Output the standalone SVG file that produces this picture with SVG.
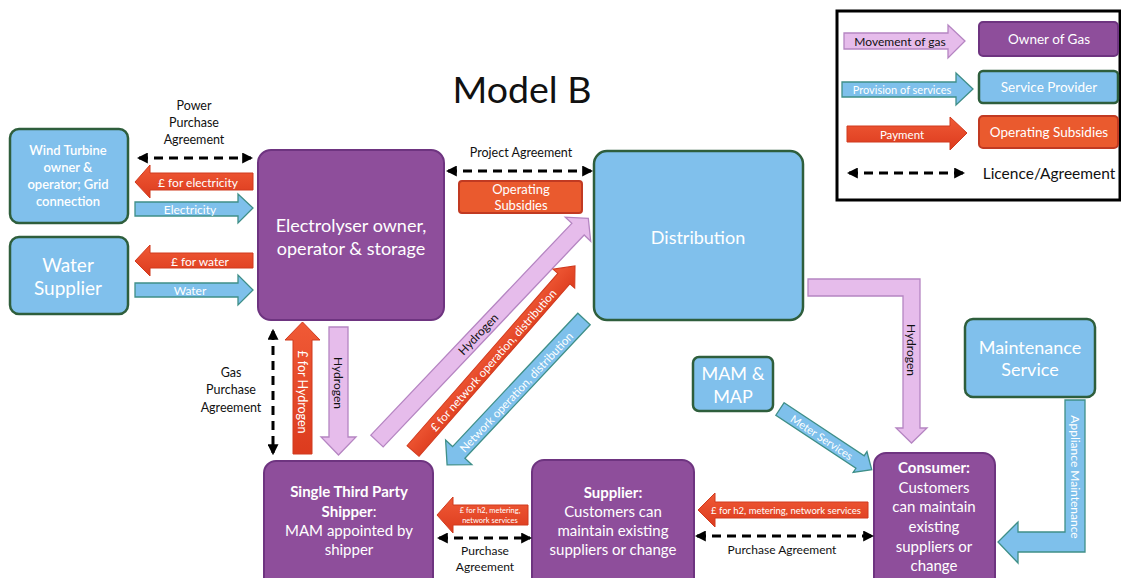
<svg xmlns="http://www.w3.org/2000/svg" width="1121" height="578" viewBox="0 0 1121 578">
<defs>
<style>
.t{font-family:Lato,"Liberation Sans",sans-serif;text-anchor:middle;dominant-baseline:central}
.w{fill:#fff}
.k{fill:#111}
.b{font-weight:bold}
.own{fill:#8E4E9B;stroke:#6E3480;stroke-width:2}
.srv{fill:#80C0EC;stroke:#2E5E3C;stroke-width:2.5}
.sub{fill:#EA5A2E;stroke:#C13A22;stroke-width:2}
.gas{fill:#E6BCEB;stroke:#B585C2;stroke-width:1.3}
.pay{fill:url(#rg);stroke:#D03A1E;stroke-width:1}
.prv{fill:#7EC0EB;stroke:#3F8F88;stroke-width:1.3}
.dash{stroke:#000;stroke-width:3;stroke-dasharray:9 6;fill:none;marker-start:url(#ah);marker-end:url(#ah)}
</style>
<linearGradient id="rg" x1="0" y1="0" x2="0" y2="1">
<stop offset="0" stop-color="#F05A36"/>
<stop offset="1" stop-color="#DC3B1E"/>
</linearGradient>
<marker id="ah" viewBox="0 0 10 10" refX="8" refY="5" markerWidth="11" markerHeight="11" markerUnits="userSpaceOnUse" orient="auto-start-reverse">
<path d="M0,0 L10,5 L0,10 Z" fill="#000"/>
</marker>
</defs>
<rect width="1121" height="578" fill="#fff"/>

<text class="t k" x="522" y="88" font-size="37.5">Model B</text>

<g id="legend">
<rect x="837" y="11" width="283" height="189" fill="#fff" stroke="#000" stroke-width="3"/>
<path class="gas" d="M844,33 L948,33 L948,25 L965,41 L948,58 L948,49 L844,49 Z"/>
<text class="t k" x="900" y="41" font-size="12">Movement of gas</text>
<path class="prv" d="M842,82 L956,82 L956,73 L973,89 L956,105 L956,97 L842,97 Z"/>
<text class="t w" x="902" y="89" font-size="11">Provision of services</text>
<path class="pay" d="M847,126 L950,126 L950,117 L967,133 L950,150 L950,142 L847,142 Z"/>
<text class="t w" x="902" y="134" font-size="11.5">Payment</text>
<rect class="own" x="979" y="22" width="139" height="34" rx="4"/>
<text class="t w" x="1049" y="39" font-size="13.5">Owner of Gas</text>
<rect class="srv" x="979" y="71" width="139" height="32" rx="4"/>
<text class="t w" x="1049" y="87" font-size="13.5">Service Provider</text>
<rect class="sub" x="979" y="116" width="139" height="32" rx="4"/>
<text class="t w" x="1049" y="132" font-size="13.5">Operating Subsidies</text>
<line class="dash" x1="849" y1="173" x2="963" y2="173"/>
<text class="t k" x="1049" y="173" font-size="15.5">Licence/Agreement</text>
</g>

<g id="wind">
<rect class="srv" x="10" y="129" width="118" height="94" rx="9"/>
<text class="t w" font-size="13" font-weight="600"><tspan x="68" y="150">Wind Turbine</tspan><tspan x="68" y="167">owner &amp;</tspan><tspan x="68" y="184">operator; Grid</tspan><tspan x="68" y="201">connection</tspan></text>
</g>
<g id="water">
<rect class="srv" x="10" y="237" width="118" height="77" rx="9"/>
<text class="t w" font-size="19"><tspan x="68" y="264">Water</tspan><tspan x="68" y="287">Supplier</tspan></text>
</g>
<g id="electrolyser">
<rect class="own" x="258" y="150" width="186" height="170" rx="13"/>
<text class="t w" font-size="18"><tspan x="351" y="225">Electrolyser owner,</tspan><tspan x="351" y="248">operator &amp; storage</tspan></text>
</g>
<g id="subsidies">
<rect class="sub" x="459" y="181" width="123" height="32" rx="3"/>
<text class="t w" font-size="13"><tspan x="521" y="189">Operating</tspan><tspan x="521" y="205">Subsidies</tspan></text>
</g>
<g id="distribution">
<rect class="srv" x="594" y="151" width="209" height="169" rx="13"/>
<text class="t w" x="698" y="237" font-size="18">Distribution</text>
</g>
<g id="maintenance">
<rect class="srv" x="965" y="319" width="130" height="78" rx="8"/>
<text class="t w" font-size="18"><tspan x="1030" y="347">Maintenance</tspan><tspan x="1030" y="369">Service</tspan></text>
</g>
<g id="mam">
<rect class="srv" x="693" y="357" width="80" height="54" rx="6"/>
<text class="t w" font-size="18"><tspan x="733" y="373">MAM &amp;</tspan><tspan x="733" y="396">MAP</tspan></text>
</g>
<g id="shipper">
<rect class="own" x="264" y="461" width="169" height="130" rx="12"/>
<text class="t w" font-size="15"><tspan x="349" y="491" font-weight="bold">Single Third Party</tspan><tspan x="349" y="511" font-weight="bold">Shipper</tspan><tspan>:</tspan><tspan x="349" y="530">MAM appointed by</tspan><tspan x="349" y="549">shipper</tspan></text>
</g>
<g id="supplier">
<rect class="own" x="532" y="460" width="162" height="130" rx="12"/>
<text class="t w" font-size="15"><tspan x="613" y="492" font-weight="bold">Supplier:</tspan><tspan x="613" y="511">Customers can</tspan><tspan x="613" y="530">maintain existing</tspan><tspan x="613" y="549">suppliers or change</tspan></text>
</g>
<g id="consumer">
<rect class="own" x="874" y="453" width="121" height="137" rx="12"/>
<text class="t w" font-size="15"><tspan x="934" y="467" font-weight="bold">Consumer:</tspan><tspan x="934" y="487">Customers</tspan><tspan x="934" y="506">can maintain</tspan><tspan x="934" y="526">existing</tspan><tspan x="934" y="546">suppliers or</tspan><tspan x="934" y="565">change</tspan></text>
</g>

<g id="connectors">
<line class="dash" x1="139" y1="158" x2="251" y2="158"/>
<text class="t k" font-size="12.5"><tspan x="194" y="105">Power</tspan><tspan x="194" y="122">Purchase</tspan><tspan x="194" y="139">Agreement</tspan></text>
<line class="dash" x1="448" y1="171" x2="591" y2="171"/>
<text class="t k" x="521" y="152" font-size="12.5">Project Agreement</text>
<line class="dash" x1="273" y1="331" x2="273" y2="453"/>
<text class="t k" font-size="12.5"><tspan x="231" y="372">Gas</tspan><tspan x="231" y="389">Purchase</tspan><tspan x="231" y="407">Agreement</tspan></text>
<line class="dash" x1="439" y1="538" x2="530" y2="538"/>
<text class="t k" font-size="12"><tspan x="485" y="550">Purchase</tspan><tspan x="485" y="566">Agreement</tspan></text>
<line class="dash" x1="697" y1="536" x2="872" y2="536"/>
<text class="t k" x="782" y="549" font-size="12">Purchase Agreement</text>

<path class="pay" d="M253,173 L150,173 L150,165 L135,182 L150,198 L150,190 L253,190 Z"/>
<text class="t w" x="198" y="182" font-size="12">£ for electricity</text>
<path class="prv" d="M135,202 L238,202 L238,194 L253,208 L238,223 L238,216 L135,216 Z"/>
<text class="t w" x="190" y="209" font-size="12">Electricity</text>
<path class="pay" d="M253,253 L150,253 L150,245 L135,261 L150,276 L150,268 L253,268 Z"/>
<text class="t w" x="200" y="261" font-size="12">£ for water</text>
<path class="prv" d="M135,283 L238,283 L238,275 L253,290 L238,305 L238,297 L135,297 Z"/>
<text class="t w" x="190" y="290" font-size="12">Water</text>

<path class="pay" d="M293,454 L293,340 L285,340 L302.5,322 L320,340 L312,340 L312,454 Z"/>
<text class="t w" transform="translate(302.5,392) rotate(90)" font-size="12.5">£ for Hydrogen</text>
<path class="gas" d="M329,327 L348,327 L348,437 L356,437 L338.5,455 L321,437 L329,437 Z"/>
<text class="t k" transform="translate(338.5,383) rotate(90)" font-size="12">Hydrogen</text>

<path class="gas" transform="translate(377,441) rotate(-46.5)" d="M0,-8.5 L292,-8.5 L292,-17.5 L307,0 L292,17.5 L292,8.5 L0,8.5 Z"/>
<text class="t k" transform="translate(478,334) rotate(-46.5)" font-size="12">Hydrogen</text>
<path class="pay" transform="translate(413,451) rotate(-48.8)" d="M0,-8 L229,-8 L229,-14.5 L246,0 L229,14.5 L229,8 L0,8 Z"/>
<text class="t w" transform="translate(493,360) rotate(-48.8)" font-size="11.5">£ for network operation, distribution</text>
<path class="prv" transform="translate(584,319) rotate(133.2)" d="M0,-8.5 L183,-8.5 L183,-18 L200,0 L183,18 L183,8.5 L0,8.5 Z"/>
<text class="t w" transform="translate(516,392) rotate(-46.8)" font-size="11.5">Network operation, distribution</text>

<path class="gas" d="M808,279 L920,279 L920,428 L927,428 L911.5,443 L896,428 L903,428 L903,296 L808,296 Z"/>
<text class="t k" transform="translate(911.5,350) rotate(90)" font-size="12">Hydrogen</text>

<path class="prv" transform="translate(780,409) rotate(33.5)" d="M0,-7.5 L96,-7.5 L96,-12.5 L110,0 L96,12.5 L96,7.5 L0,7.5 Z"/>
<text class="t w" transform="translate(822,437) rotate(33.5)" font-size="11">Meter Services</text>

<path class="prv" d="M1065,400 L1085,400 L1085,552 L1018,552 L1018,563 L998,542 L1018,522 L1018,532 L1065,532 Z"/>
<text class="t w" transform="translate(1075,477) rotate(90)" font-size="12">Appliance Maintenance</text>

<path class="pay" d="M868,502 L715,502 L715,493 L698,510 L715,527 L715,518 L868,518 Z"/>
<text class="t w" x="786" y="510" font-size="9.5">£ for h2, metering, network services</text>
<path class="pay" d="M528,505 L453,505 L453,497 L437,515 L453,533 L453,525 L528,525 Z"/>
<text class="t w" font-size="7.5"><tspan x="490" y="510">£ for h2, metering,</tspan><tspan x="490" y="520">network services</tspan></text>
</g>
</svg>
